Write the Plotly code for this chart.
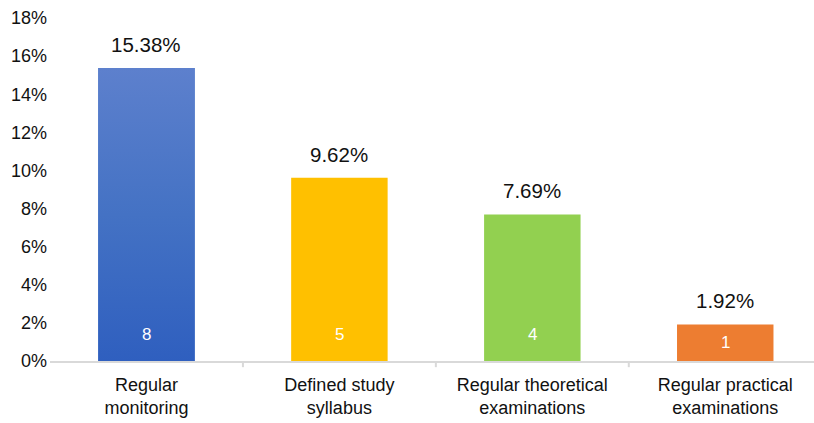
import plotly.graph_objects as go

categories = ["Regular<br>monitoring", "Defined study<br>syllabus",
              "Regular theoretical<br>examinations", "Regular practical<br>examinations"]
percent_values = [15.38, 9.62, 7.69, 1.92]
counts = [8, 5, 4, 1]
bar_colors = ["#4472c4", "#ffc000", "#92d050", "#ed7d31"]
y_ticks = [0, 2, 4, 6, 8, 10, 12, 14, 16, 18]

FONT = "Liberation Sans, Arial, sans-serif"
BAR_W = 0.5
xs = list(range(len(categories)))

fig = go.Figure()
fig.add_trace(go.Bar(
    x=xs, y=percent_values, width=BAR_W,
    marker=dict(color=bar_colors, line=dict(width=0)),
    hoverinfo="skip", showlegend=False,
))

# gradient overlay for the first (blue) bar
x0, v0 = xs[0], percent_values[0]
fig.add_trace(go.Scatter(
    x=[x0 - BAR_W / 2, x0 + BAR_W / 2, x0 + BAR_W / 2, x0 - BAR_W / 2, x0 - BAR_W / 2],
    y=[0, 0, v0, v0, 0],
    mode="lines", line=dict(width=0), fill="toself",
    fillgradient=dict(type="vertical",
                      colorscale=[[0, "#2f5fbf"], [0.5, "#4472c4"], [1, "#5d80cd"]]),
    hoverinfo="skip", showlegend=False,
))

annotations = []
for x, v, c in zip(xs, percent_values, counts):
    annotations.append(dict(
        x=x, y=v, xref="x", yref="y", text=f"{v:.2f}%", showarrow=False,
        yanchor="bottom", yshift=10, font=dict(family=FONT, size=20.5, color="#111111")))
    annotations.append(dict(
        x=x, y=min(1.37, v / 2), xref="x", yref="y", text=str(c), showarrow=False,
        yanchor="middle", font=dict(family=FONT, size=17, color="#ffffff")))

fig.update_layout(
    width=814, height=423,
    margin=dict(l=50, r=0, t=18, b=62),
    paper_bgcolor="white", plot_bgcolor="white",
    annotations=annotations,
    bargap=0.5,
    xaxis=dict(
        tickmode="array", tickvals=xs, ticktext=categories,
        range=[-0.5, 3.46], showgrid=False, zeroline=False,
        showline=True, linecolor="#d9d9d9", linewidth=2,
        ticks="", ticklabelstandoff=6,
        tickfont=dict(family=FONT, size=18, color="#111111"),
    ),
    yaxis=dict(
        range=[0, 18], tickvals=y_ticks, ticktext=[f"{t}%" for t in y_ticks],
        showgrid=False, zeroline=False, showline=False, ticks="",
        ticklabelstandoff=2,
        tickfont=dict(family=FONT, size=18, color="#111111"),
    ),
)

# small tick marks at the category boundaries
for b in [0.5, 1.5, 2.5]:
    fig.add_shape(type="line", xref="x", yref="paper", x0=b, x1=b, y0=0, y1=-0.018,
                  line=dict(color="#d9d9d9", width=2))

fig.write_html("out.html")
